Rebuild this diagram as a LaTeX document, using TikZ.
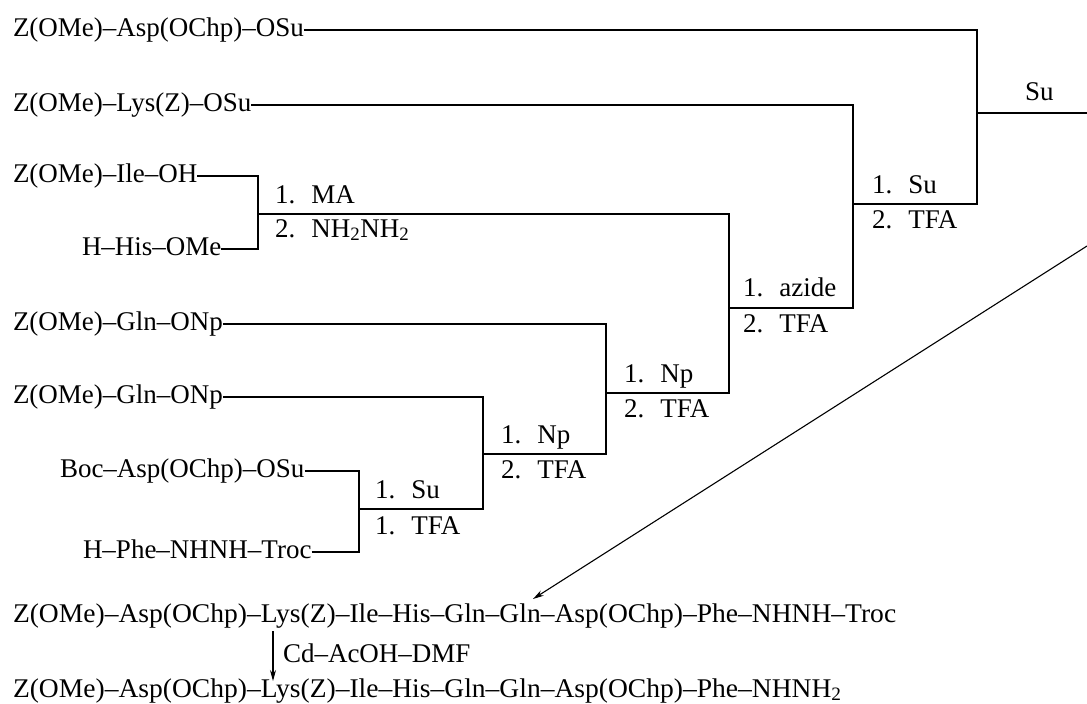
\documentclass[tikz,border=0pt]{standalone}
\usepackage{fontspec}
\setmainfont{Liberation Serif}
\usetikzlibrary{arrows.meta}
\begin{document}
\begin{tikzpicture}[x=1pt,y=-1pt,
  every node/.style={inner sep=0pt,outer sep=0pt,font=\fontsize{27}{30}\selectfont},
  cmpd/.style={anchor=base west},
  lab/.style={anchor=base west},
  ln/.style={line width=1.1pt},
  arr/.style={line width=1.1pt,-{Stealth[length=11pt,width=6pt]}}]
\useasboundingbox (0,0) rectangle (1087,704);
% starting compounds (baseline 6 below the connector)
\node[cmpd] (asp) at (13,36) {Z(OMe)–Asp(OChp)–OSu};
\node[cmpd] (lys) at (13,111) {Z(OMe)–Lys(Z)–OSu};
\node[cmpd] (ile) at (13,182) {Z(OMe)–Ile–OH};
\node[cmpd] (his) at (82,255) {H–His–OMe};
\node[cmpd] (glnA) at (13,330) {Z(OMe)–Gln–ONp};
\node[cmpd] (glnB) at (13,403) {Z(OMe)–Gln–ONp};
\node[cmpd] (boc) at (60,477) {Boc–Asp(OChp)–OSu};
\node[cmpd] (phe) at (83,558) {H–Phe–NHNH–Troc};
% junctions
\coordinate (jA) at (258,214);
\coordinate (jB) at (359,509);
\coordinate (jC) at (483,454);
\coordinate (jD) at (606,393);
\coordinate (jE) at (729,308);
\coordinate (jF) at (853,204);
\coordinate (jG) at (977,113);
\coordinate (jEnd) at (1087,113);
% connectors
\draw[ln] ([yshift=6pt]ile.base east) -| (jA);
\draw[ln] ([yshift=6pt]his.base east) -| (jA);
\draw[ln] ([yshift=6pt]boc.base east) -| (jB);
\draw[ln] ([yshift=6pt]phe.base east) -| (jB);
\draw[ln] ([yshift=6pt]glnB.base east) -| (jC);
\draw[ln] (jB) -| (jC);
\draw[ln] ([yshift=6pt]glnA.base east) -| (jD);
\draw[ln] (jC) -| (jD);
\draw[ln] (jA) -| (jE);
\draw[ln] (jD) -| (jE);
\draw[ln] ([yshift=6pt]lys.base east) -| (jF);
\draw[ln] (jE) -| (jF);
\draw[ln] ([yshift=6pt]asp.base east) -| (jG);
\draw[ln] (jF) -| (jG);
\draw[ln] (jG) -- (jEnd);
% reagent labels
\node[lab] (lA1) at (275,203) {1.\hspace{0.6em}MA};
\node[lab] (lA2) at (275,237) {2.\hspace{0.6em}NH\textsubscript{2}NH\textsubscript{2}};
\node[lab] (lB1) at (375,498) {1.\hspace{0.6em}Su};
\node[lab] (lB2) at (375,534) {1.\hspace{0.6em}TFA};
\node[lab] (lC1) at (501,443) {1.\hspace{0.6em}Np};
\node[lab] (lC2) at (501,478) {2.\hspace{0.6em}TFA};
\node[lab] (lD1) at (624,382) {1.\hspace{0.6em}Np};
\node[lab] (lD2) at (624,417) {2.\hspace{0.6em}TFA};
\node[lab] (lE1) at (743,296) {1.\hspace{0.6em}azide};
\node[lab] (lE2) at (743,332) {2.\hspace{0.6em}TFA};
\node[lab] (lF1) at (872,193) {1.\hspace{0.6em}Su};
\node[lab] (lF2) at (872,228) {2.\hspace{0.6em}TFA};
\node[lab] (lG) at (1025,100) {Su};
% diagonal arrow
\coordinate (dStart) at (1087,246);
\coordinate (dEnd) at (533,599);
\draw[arr] (dStart) -- (dEnd);
% products
\node[lab] (prod1) at (13,622) {\scalebox{1.02}[1]{Z(OMe)–Asp(OChp)–Lys(Z)–Ile–His–Gln–Gln–Asp(OChp)–Phe–NHNH–Troc}};
\node[lab] (reag) at (283,662) {Cd–AcOH–DMF};
\node[lab] (prod2) at (13,697) {\scalebox{1.02}[1]{Z(OMe)–Asp(OChp)–Lys(Z)–Ile–His–Gln–Gln–Asp(OChp)–Phe–NHNH\textsubscript{2}}};
\coordinate (aTop) at (273,631);
\coordinate (aBot) at (273,681);
\draw[arr] (aTop) -- (aBot);
\end{tikzpicture}
\end{document}
